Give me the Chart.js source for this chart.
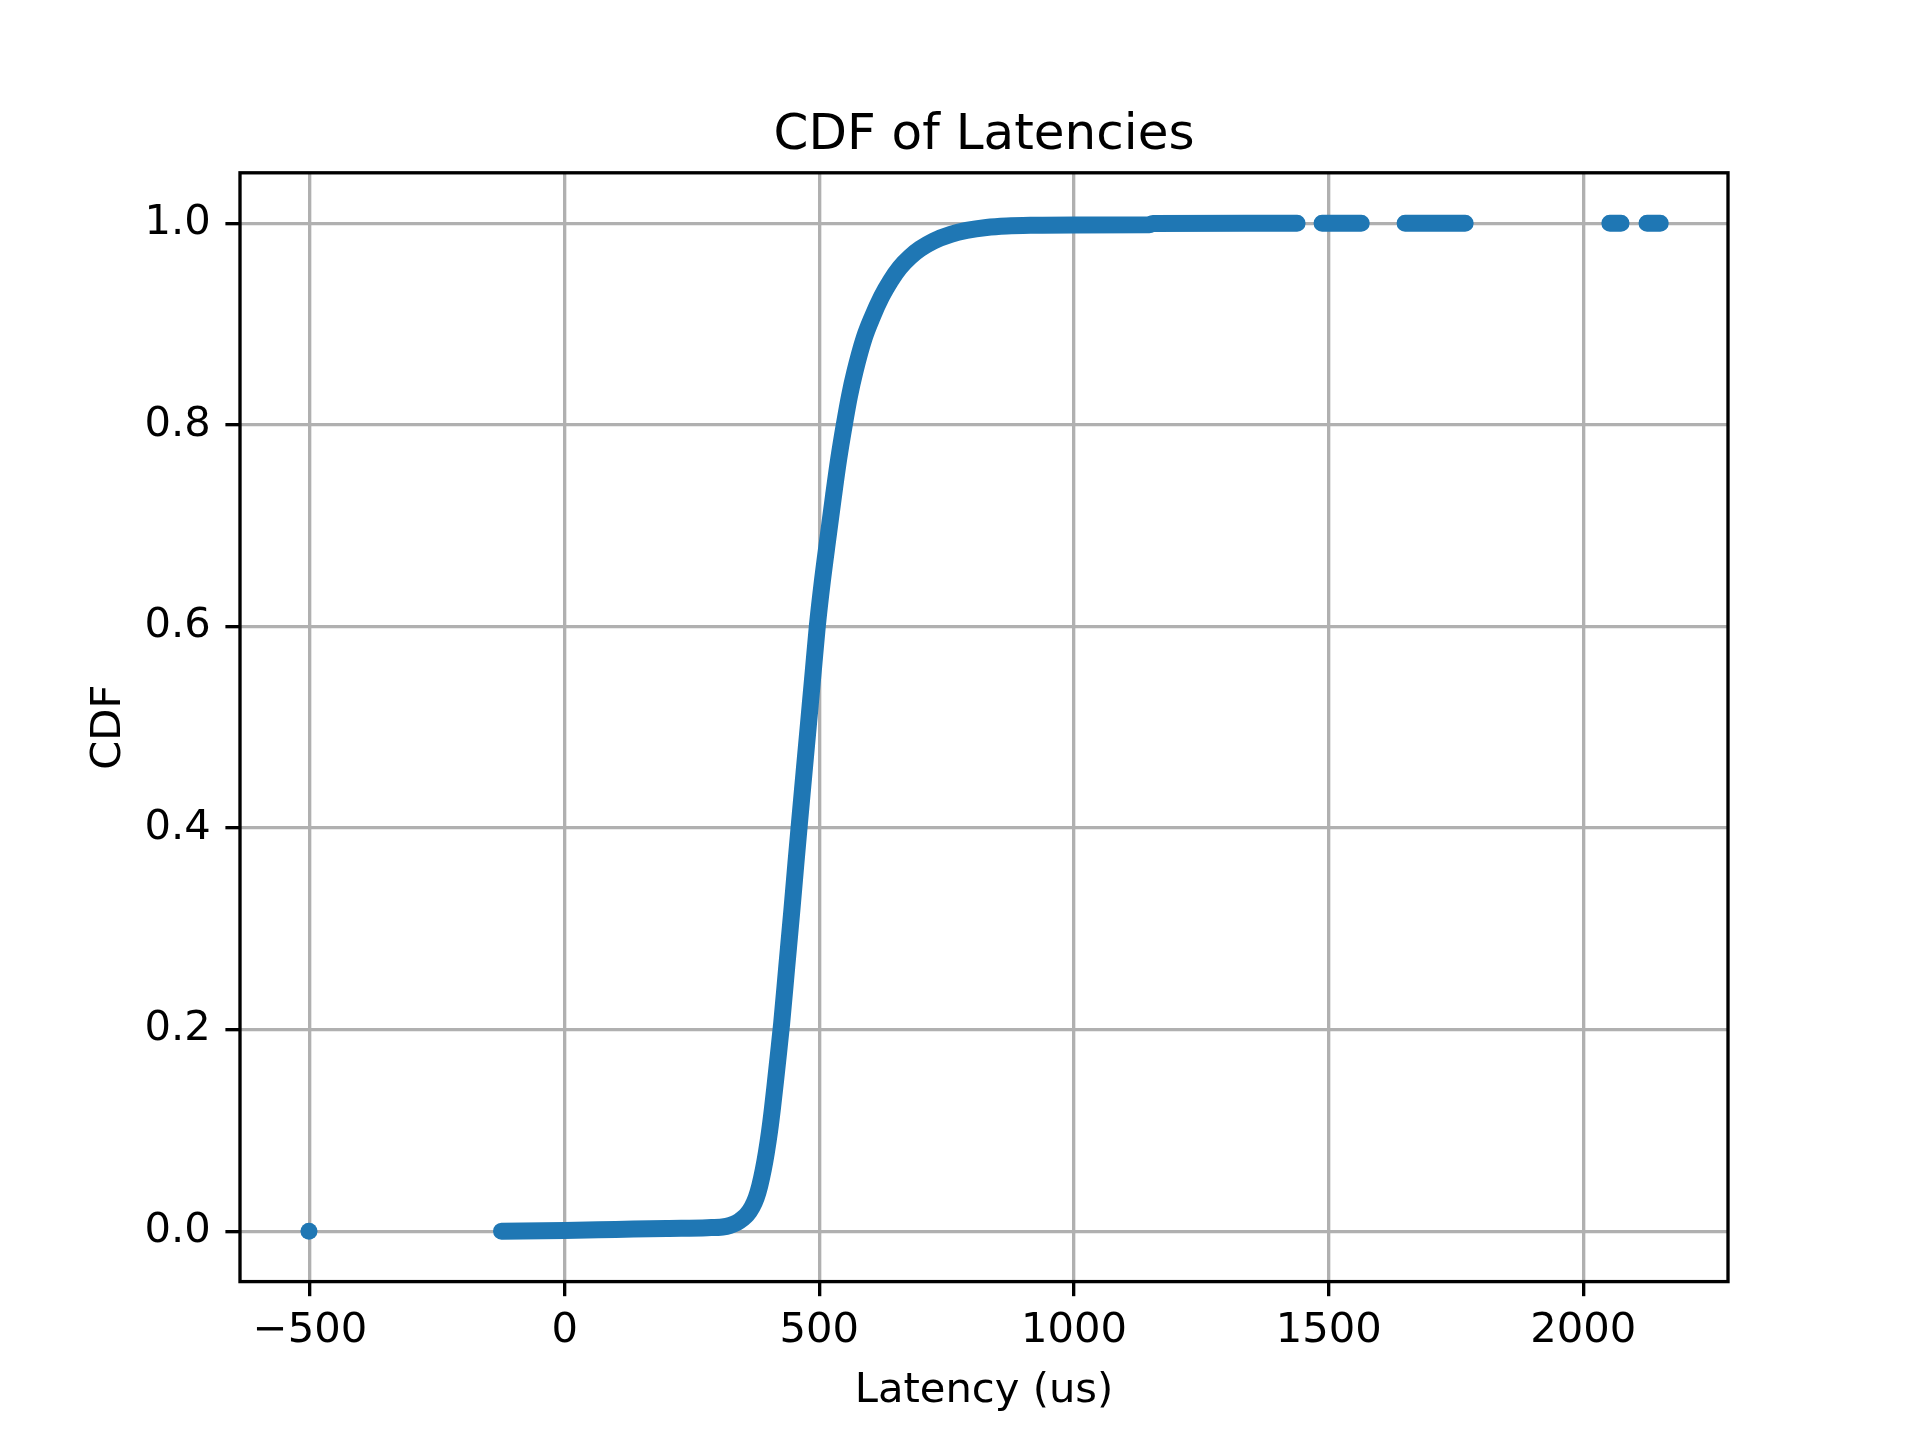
<!DOCTYPE html>
<html>
<head>
<meta charset="utf-8">
<title>CDF of Latencies</title>
<script src="https://cdn.jsdelivr.net/npm/chart.js@4.4.1/dist/chart.umd.min.js"></script>
<style>
  html, body { margin: 0; padding: 0; background: #fff; }
  #chart { display: block; }
</style>
</head>
<body>
<canvas id="chart" width="1920" height="1440"></canvas>
<script>
// values ////////////////////////////////////////////////
const cdfLatency = [-124, 0, 100, 200, 280, 310, 325, 338, 348, 358, 368, 376, 383,
  390, 396, 402, 408, 414, 420, 426, 436, 446, 454, 461, 470, 479, 488, 496, 506,
  517, 528, 538, 549, 559, 570, 588, 604, 622, 640, 658, 678, 698, 724, 758, 789,
  828, 868, 920, 1000, 1148, 1155, 1438];
const cdfValue = [0.0, 0.0008, 0.0018, 0.0028, 0.0035, 0.0042, 0.0058, 0.0085, 0.012,
  0.0165, 0.024, 0.033, 0.045, 0.061, 0.078, 0.098, 0.122, 0.149, 0.177, 0.206, 0.262,
  0.318, 0.365, 0.405, 0.455, 0.505, 0.555, 0.6, 0.645, 0.688, 0.73, 0.766, 0.8,
  0.828, 0.853, 0.886, 0.907, 0.927, 0.943, 0.956, 0.9665, 0.9746, 0.9823, 0.9889,
  0.9928, 0.9958, 0.9973, 0.998, 0.9983, 0.9985, 0.9998, 1.0];

// 꼬리 부분 (CDF = 1.0 인 구간들)
const tailStart = [1487, 1650, 2052, 2125];
const tailEnd = [1564, 1768, 2074, 2151];
const tailValue = 1.0;

// 이상치
const outlierLatency = [-502];
const outlierValue = [0.0];

const xTicks = [-500, 0, 500, 1000, 1500, 2000];
const yTicks = [0.0, 0.2, 0.4, 0.6, 0.8, 1.0];

// style ///////////////////////////////////////////////////////////////////////
const FONT = "'DejaVu Sans', sans-serif";
const BLUE = '#1f77b4';
const LW = 3.33;       // 0.8pt @ 300dpi
const TICK = 14.6;     // 3.5pt
const BAND = 17;       // marker diameter

const mainData = cdfLatency.map((x, i) => ({ x, y: cdfValue[i] }));

const tailData = [];
tailStart.forEach((s, i) => {
  if (i > 0) tailData.push({ x: (tailEnd[i - 1] + s) / 2, y: null });
  tailData.push({ x: s, y: tailValue });
  tailData.push({ x: tailEnd[i], y: tailValue });
});

const outlierData = outlierLatency.map((x, i) => ({ x, y: outlierValue[i] }));

// 네 변 테두리
const framePlugin = {
  id: 'frame',
  afterDatasetsDraw(chart) {
    const { ctx, chartArea: a } = chart;
    ctx.save();
    ctx.strokeStyle = '#000';
    ctx.lineWidth = LW;
    ctx.strokeRect(a.left, a.top, a.right - a.left, a.bottom - a.top);
    ctx.restore();
  },
};

const fmtX = (v) => (v < 0 ? '\u2212' + Math.abs(v) : String(v));

new Chart(document.getElementById('chart'), {
  type: 'line',
  data: {
    datasets: [
      {
        label: 'CDF',
        data: mainData,
        borderColor: BLUE,
        borderWidth: BAND,
        borderCapStyle: 'round',
        borderJoinStyle: 'round',
        cubicInterpolationMode: 'monotone',
        pointRadius: 0,
        fill: false,
      },
      {
        label: 'tail',
        data: tailData,
        borderColor: BLUE,
        borderWidth: BAND,
        borderCapStyle: 'round',
        spanGaps: false,
        pointRadius: 0,
        fill: false,
      },
      {
        label: 'outlier',
        data: outlierData,
        showLine: false,
        pointRadius: BAND / 2,
        pointBorderWidth: 0,
        pointBackgroundColor: BLUE,
        pointBorderColor: BLUE,
      },
    ],
  },
  options: {
    responsive: false,
    devicePixelRatio: 1,
    animation: false,
    layout: { padding: { left: 0, top: 0, right: 192, bottom: 0 } },
    scales: {
      x: {
        type: 'linear',
        min: -637.4,
        max: 2284,
        afterFit: (s) => { s.height = 158.4; },
        afterBuildTicks: (s) => { s.ticks = xTicks.map((v) => ({ value: v })); },
        border: { display: false },
        grid: { color: '#b0b0b0', lineWidth: LW, tickColor: '#000', tickWidth: LW, tickLength: TICK },
        ticks: {
          color: '#000',
          padding: 10.3,
          maxRotation: 0,
          autoSkip: false,
          font: { family: FONT, size: 41.7 },
          callback: (v) => fmtX(v),
        },
        title: {
          display: true,
          text: 'Latency (us)',
          color: '#000',
          font: { family: FONT, size: 41.7 },
          padding: { top: 0, bottom: 23.5 },
        },
      },
      y: {
        type: 'linear',
        min: -0.05,
        max: 1.05,
        afterFit: (s) => { s.width = 240; },
        afterBuildTicks: (s) => { s.ticks = yTicks.map((v) => ({ value: v })); },
        border: { display: false },
        grid: { color: '#b0b0b0', lineWidth: LW, tickColor: '#000', tickWidth: LW, tickLength: TICK },
        ticks: {
          color: '#000',
          padding: 14.6,
          autoSkip: false,
          font: { family: FONT, size: 41.7 },
          callback: (v) => v.toFixed(1),
        },
        title: {
          display: true,
          text: 'CDF',
          color: '#000',
          font: { family: FONT, size: 41.7 },
          padding: { top: 84, bottom: 0 },
        },
      },
    },
    plugins: {
      legend: { display: false },
      tooltip: { enabled: false },
      title: {
        display: true,
        fullSize: false,
        text: 'CDF of Latencies',
        color: '#000',
        font: { family: FONT, size: 50, weight: 'normal' },
        padding: { top: 106.5, bottom: 6.3 },
      },
    },
  },
  plugins: [framePlugin],
});
</script>
</body>
</html>
